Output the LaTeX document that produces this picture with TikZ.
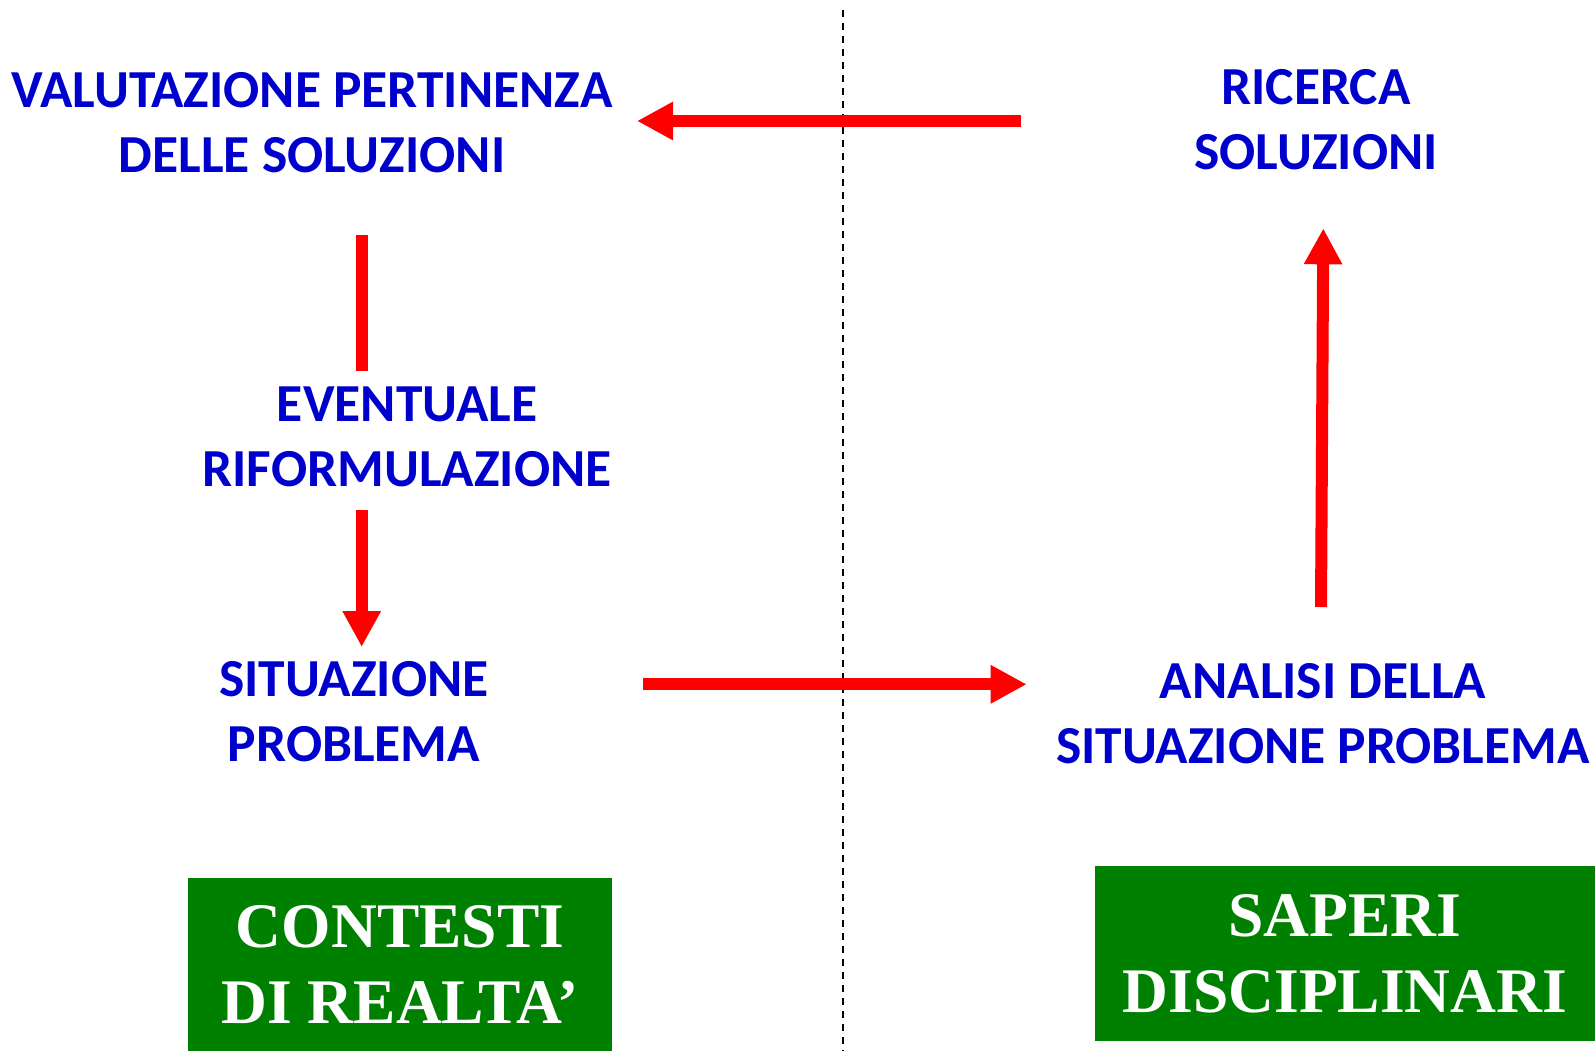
\documentclass[tikz,border=0pt]{standalone}
\usepackage{fontspec}
\setmainfont{Liberation Serif}
\newfontfamily\calib{Carlito}
\usetikzlibrary{arrows.meta}
\definecolor{tblue}{RGB}{0,0,204}
\definecolor{tred}{RGB}{255,0,0}
\definecolor{tgreen}{RGB}{0,128,0}
\begin{document}
\begin{tikzpicture}[x=1pt,y=-1pt,
  lbl/.style={text=tblue, font=\calib\bfseries\fontsize{53.5}{65}\selectfont, align=center, inner sep=0pt},
  greenbox/.style={fill=tgreen, text=white, font=\bfseries\fontsize{63.5}{76}\selectfont, align=center, inner sep=0pt},
  flow/.style={draw=tred, line width=12pt, -{Triangle[length=36pt,width=36pt]}},
  bar/.style={draw=tred, line width=12pt},
  divider/.style={draw=black, dash pattern=on 7pt off 6pt, line width=2pt}]
\useasboundingbox (0,0) rectangle (1595,1051);

% divider
\coordinate (d1) at (842.7,10);
\coordinate (d2) at (842.7,1051);
\draw[divider] (d1) -- (d2);

% text nodes
\node[lbl] (val) at (312,123) {VALUTAZIONE PERTINENZA\\DELLE SOLUZIONI};
\node[lbl] (ric) at (1316,120) {RICERCA\\SOLUZIONI};
\node[lbl] (eve) at (407,437) {EVENTUALE\\RIFORMULAZIONE};
\node[lbl] (sit) at (354,712) {SITUAZIONE\\PROBLEMA};
\node[lbl] (ana) at (1323,714) {ANALISI DELLA\\SITUAZIONE PROBLEMA};

% green boxes
\node[greenbox, minimum width=424pt, minimum height=173pt] (ctx) at (400,964.5) {CONTESTI\\DI REALTA’};
\node[greenbox, minimum width=500pt, minimum height=175pt] (sap) at (1345,953.5) {SAPERI\\DISCIPLINARI};

% arrow end points
\coordinate (a1s) at (1021,121);
\coordinate (a1e) at (637,121);
\coordinate (b1s) at (361.7,235);
\coordinate (b1e) at (361.7,371);
\coordinate (b2s) at (361.7,510);
\coordinate (b2e) at (361.7,647);
\coordinate (c1s) at (642.7,684.3);
\coordinate (c1e) at (1026.7,684.3);
\coordinate (u1s) at (1321,607);
\coordinate (u1e) at (1323.3,228.3);

\draw[flow] (a1s) -- (a1e);
\draw[bar] (b1s) -- (b1e);
\draw[flow] (b2s) -- (b2e);
\draw[flow] (c1s) -- (c1e);
\draw[flow] (u1s) -- (u1e);
\end{tikzpicture}
\end{document}
